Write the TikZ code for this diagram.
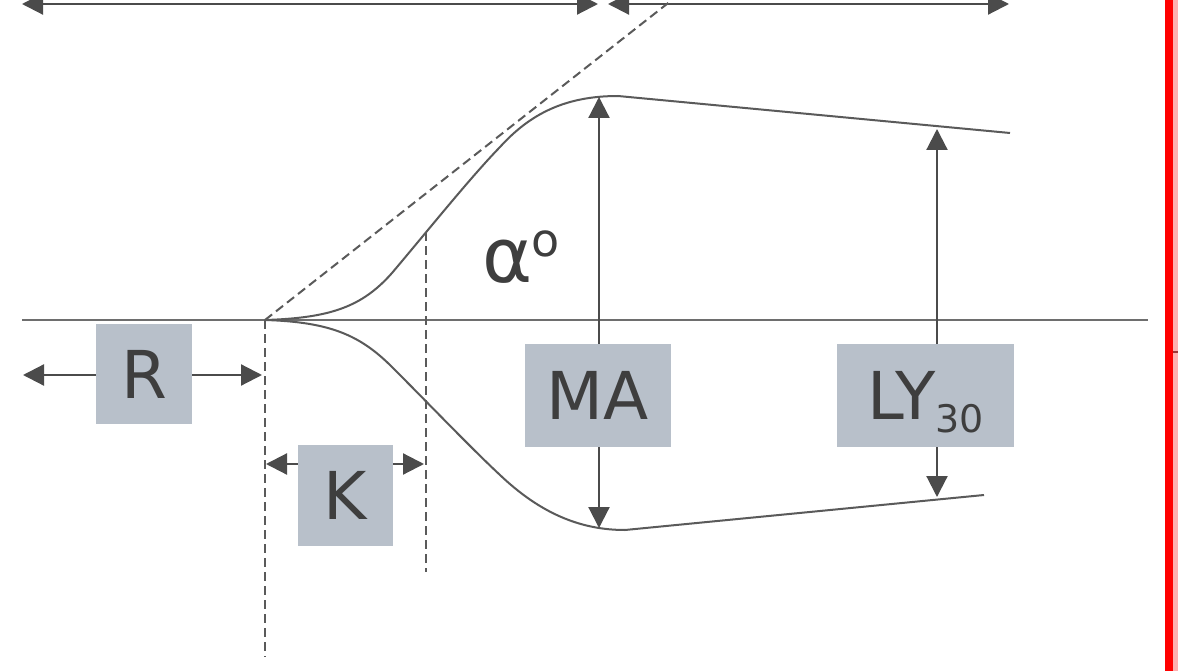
\documentclass[tikz,border=0pt]{standalone}
\usepackage{fontspec}
\setmainfont{DejaVu Sans}
\usetikzlibrary{arrows.meta}
\definecolor{ln}{RGB}{90,90,90}
\definecolor{ax}{RGB}{110,110,110}
\definecolor{ar}{RGB}{75,75,75}
\definecolor{bx}{RGB}{184,192,202}
\definecolor{tx}{RGB}{62,62,62}
\definecolor{pinkish}{RGB}{255,175,175}
\begin{document}
\begin{tikzpicture}[x=1pt,y=-1pt,
  arr/.style={ar, line width=2.2pt, -{Triangle[length=21pt,width=21pt]}},
  darr/.style={ar, line width=2.2pt, {Triangle[length=21pt,width=21pt]}-{Triangle[length=21pt,width=21pt]}},
  dashline/.style={ln, line width=2pt, dash pattern=on 9pt off 5pt},
  curve/.style={ln, line width=2pt, line join=round},
  box/.style={fill=bx, text=tx, inner sep=0pt, font=\fontsize{66}{66}\selectfont, text height=48pt, text depth=0pt}]
\clip (0,0) rectangle (1178,671);
\fill[white] (0,0) rectangle (1178,671);
% red bar at right
\fill[red] (1165,0) rectangle (1173,671);
\fill[pinkish] (1173,0) rectangle (1178,671);
\draw[ln!60!red, line width=1.5pt] (1173,352) -- (1178,352);
% coordinates
\coordinate (O) at (265,320);
\coordinate (T1l) at (22,4);
\coordinate (T1r) at (598,4);
\coordinate (T2l) at (608,4);
\coordinate (T2r) at (1009,4);
\coordinate (AxL) at (22,320);
\coordinate (AxR) at (1148,320);
\coordinate (Diag) at (672,0);
\coordinate (Obot) at (265,657);
\coordinate (Ktop) at (426,232);
\coordinate (Kbot) at (426,572);
\coordinate (MAt) at (599,97);
\coordinate (MAb) at (599,528);
\coordinate (LYt) at (937,129);
\coordinate (LYb) at (937,497);
\coordinate (Rl) at (23,375);
\coordinate (Rr) at (262,375);
\coordinate (Kl) at (266,464);
\coordinate (Kr) at (424,464);
\coordinate (UpEnd) at (1010,133);
\coordinate (LoEnd) at (984,495);
% top arrows
\draw[darr] (T1l) -- (T1r);
\draw[darr] (T2l) -- (T2r);
% axis
\draw[ax, line width=2pt] (AxL) -- (AxR);
% dashed lines
\draw[dashline] (O) -- (Diag);
\draw[dashline] (O) -- (Obot);
\draw[dashline] (Ktop) -- (Kbot);
% curves
\draw[curve] (O) .. controls (330,318) and (362,307) .. (392,273)
  .. controls (430,228) and (470,178) .. (500,147) .. controls (530,114) and (565,96) .. (618,96) -- (UpEnd);
\draw[curve] (O) .. controls (330,322) and (360,335) .. (392,367)
  .. controls (430,405) and (470,447) .. (500,475) .. controls (540,513) and (580,530) .. (625,530) -- (LoEnd);
% boxes
\node[box, minimum width=96pt, minimum height=100pt] (R) at (144,374) {R};
\node[box, minimum width=95pt, minimum height=101pt] (K) at (345.5,495.5) {K};
\node[box, minimum width=146pt, minimum height=103pt] (MA) at (598,395.5) {MA};
\node[box, minimum width=177pt, minimum height=103pt] (LY) at (925.5,395.5) {LY\raisebox{-13pt}{\fontsize{38}{38}\selectfont 30}};
% dimension arrows
\draw[arr] (R.west |- Rl) -- (Rl);
\draw[arr] (R.east |- Rr) -- (Rr);
\draw[arr] (K.west |- Kl) -- (Kl);
\draw[arr] (K.east |- Kr) -- (Kr);
\draw[arr] (MA.north -| MAt) -- (MAt);
\draw[arr] (MA.south -| MAb) -- (MAb);
\draw[arr] (LY.north -| LYt) -- (LYt);
\draw[arr] (LY.south -| LYb) -- (LYb);
% angle label
\node[text=tx, inner sep=0pt, font=\fontsize{76}{76}\selectfont] (alpha) at (508,262) {α};
\node[text=tx, inner sep=0pt, font=\fontsize{46}{46}\selectfont] (deg) at (546,244) {o};
\end{tikzpicture}
\end{document}
